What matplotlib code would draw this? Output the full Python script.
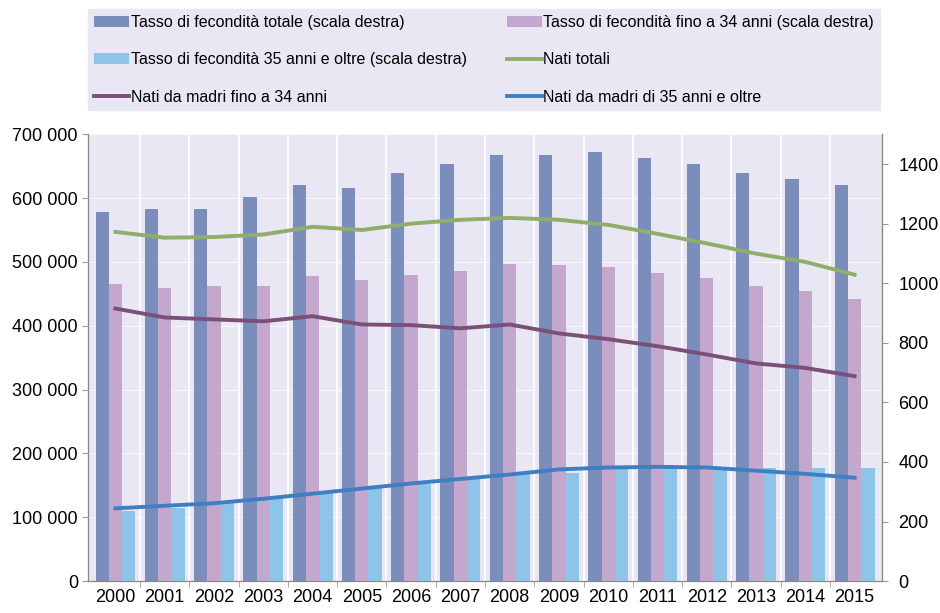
import matplotlib.pyplot as plt
import matplotlib.ticker as mticker
import numpy as np

plt.rcParams['font.family'] = ['Liberation Sans', 'DejaVu Sans']

anni = [2000, 2001, 2002, 2003, 2004, 2005, 2006, 2007,
        2008, 2009, 2010, 2011, 2012, 2013, 2014, 2015]

# tassi di fecondità (per 1000 donne, scala destra)
tasso_totale = [1240, 1250, 1250, 1290, 1330, 1320, 1370, 1400,
                1430, 1430, 1440, 1420, 1400, 1370, 1350, 1330]
tasso_fino34 = [998, 985, 992, 992, 1025, 1012, 1028, 1042,
                1065, 1062, 1055, 1035, 1018, 992, 975, 948]
tasso_35oltre = [237, 247, 264, 280, 297, 314, 327, 344,
                 360, 364, 377, 381, 377, 381, 381, 381]

# nati (scala sinistra)
nati_totali = [547000, 538000, 539000, 543000, 555000, 550000, 560000, 566000,
               569000, 566000, 558000, 544000, 529000, 513000, 500000, 480000]
nati_fino34 = [427000, 413000, 410000, 407000, 415000, 402000, 401000, 396000,
               402000, 388000, 379000, 368000, 355000, 341000, 334000, 321000]
nati_35oltre = [114000, 118000, 122000, 129000, 137000, 145000, 153000, 160000,
                167000, 175000, 178000, 179000, 178000, 173000, 168000, 162000]

etichette = [
    'Tasso di fecondità totale (scala destra)',
    'Tasso di fecondità fino a 34 anni (scala destra)',
    'Tasso di fecondità 35 anni e oltre (scala destra)',
    'Nati totali',
    'Nati da madri fino a 34 anni',
    'Nati da madri di 35 anni e oltre',
]

c_totale = '#7b8dbb'
c_fino34 = '#c4a7cd'
c_35 = '#8ec4e8'
c_nati = '#8fae6a'
c_nati34 = '#7a5078'
c_nati35 = '#3d7fc1'
sfondo = '#e9e7f3'

fig = plt.figure(figsize=(9.4, 6.13), dpi=100)
ax = fig.add_axes([0.094, 0.052, 0.844, 0.729])
ax2 = ax.twinx()

x = np.arange(len(anni))
w = 0.27

# barre sull'asse destro
ax2.bar(x - w, tasso_totale, w, color=c_totale, label=etichette[0], zorder=2)
ax2.bar(x, tasso_fino34, w, color=c_fino34, label=etichette[1], zorder=2)
ax2.bar(x + w, tasso_35oltre, w, color=c_35, label=etichette[2], zorder=2)

# linee sull'asse sinistro, disegnate sopra le barre
ax3 = ax.twinx()
ax3.plot(x, nati_totali, color=c_nati, lw=2.8, label=etichette[3])
ax3.plot(x, nati_fino34, color=c_nati34, lw=2.8, label=etichette[4])
ax3.plot(x, nati_35oltre, color=c_nati35, lw=2.8, label=etichette[5])
ax3.set_ylim(0, 700000)
ax3.axis('off')

ax.set_ylim(0, 700000)
ax2.set_ylim(0, 1500)
ax.set_xlim(-0.55, len(anni) - 0.45)

ax.set_facecolor(sfondo)
ax.yaxis.set_major_locator(mticker.MultipleLocator(100000))
ax.yaxis.set_major_formatter(mticker.FuncFormatter(lambda v, p: f'{int(v):,}'.replace(',', ' ')))
ax2.set_yticks(range(0, 1401, 200))

ax.set_xticks(x)
ax.set_xticklabels([str(a) for a in anni])
ax.set_xticks(x[:-1] + 0.5, minor=True)
ax.tick_params(axis='x', which='major', length=0, labelsize=13, pad=6)
ax.tick_params(axis='x', which='minor', length=4, color='#999999')
ax.tick_params(axis='y', labelsize=13, length=4, color='#999999')
ax2.tick_params(axis='y', labelsize=13, length=4, color='#999999', pad=8)

ax.grid(axis='x', which='minor', color='white', lw=1.2)
ax.grid(axis='y', which='major', color='white', lw=0.8, alpha=0.7)
ax.set_axisbelow(True)

for a in (ax, ax2, ax3):
    a.spines['top'].set_visible(False)
for s in ('left', 'right', 'bottom'):
    ax2.spines[s].set_color('#888888')
ax.spines['left'].set_color('#555555')
ax.spines['bottom'].set_color('#888888')

h2, l2 = ax2.get_legend_handles_labels()
h3, l3 = ax3.get_legend_handles_labels()
handles = [h2[0], h2[2], h3[1], h2[1], h3[0], h3[2]]
labels = [l2[0], l2[2], l3[1], l2[1], l3[0], l3[2]]
leg = fig.legend(handles, labels, loc='upper left', ncol=2,
                 bbox_to_anchor=(0.094, 0.985, 0.842, 0.0), mode='expand',
                 fontsize=11.5, frameon=True, fancybox=False,
                 handlelength=2.2, handletextpad=0.1, labelspacing=1.4,
                 borderaxespad=0.0, borderpad=0.35, columnspacing=1.0)
leg.get_frame().set_facecolor(sfondo)
leg.get_frame().set_edgecolor(sfondo)
leg.get_frame().set_alpha(1)

fig.savefig('out.png', dpi=100)
